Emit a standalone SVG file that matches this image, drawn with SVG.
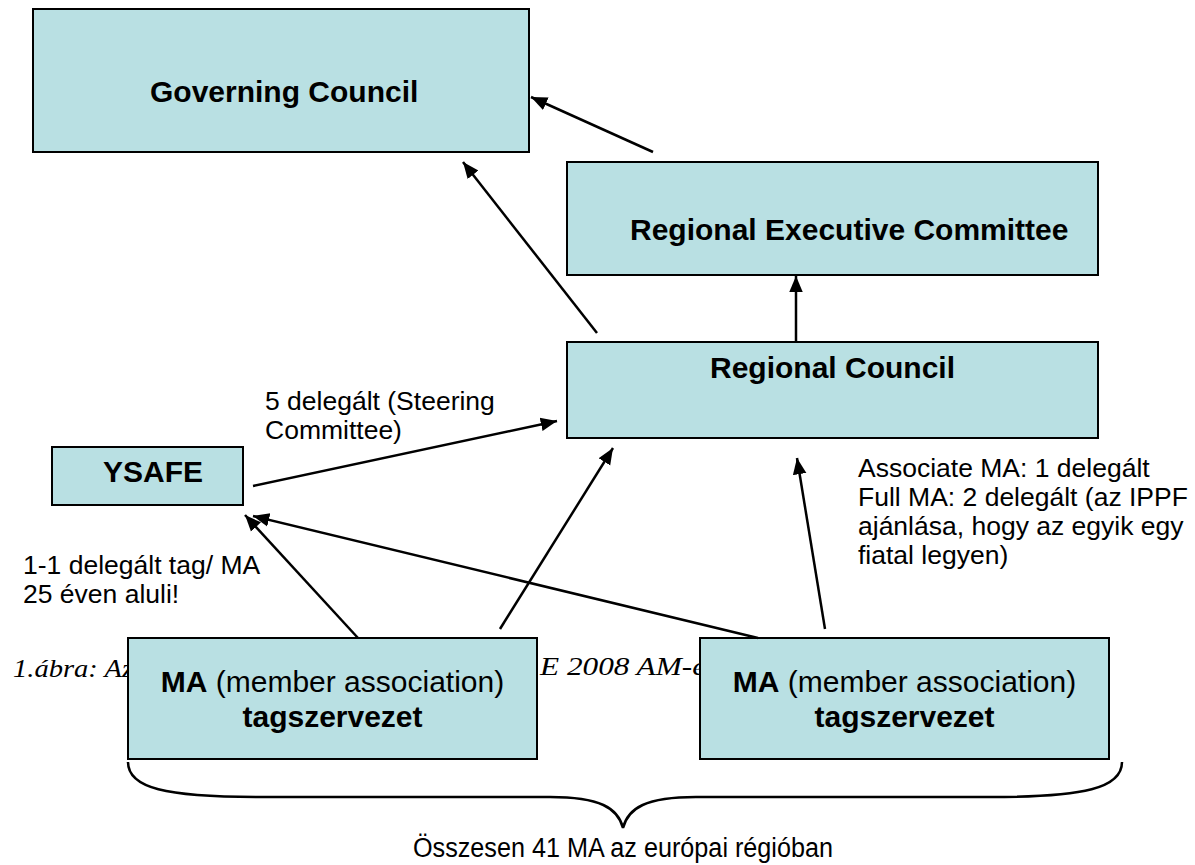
<svg xmlns="http://www.w3.org/2000/svg" width="1195" height="865" viewBox="0 0 1195 865">
<defs>
<style>
.box{fill:#b9e0e3;stroke:#000;stroke-width:2}
.t{font-family:"Liberation Sans",Arial,sans-serif;fill:#000}
.b{font-weight:bold}
.n{font-size:30px}
.l{font-size:26.5px}
.cap{font-family:"Liberation Serif","Times New Roman",serif;font-style:italic;font-size:25px;fill:#000}
.c{stroke:#000;stroke-width:2.5;fill:none}
</style>
<marker id="a" viewBox="0 0 10 10" refX="10" refY="5" markerWidth="6.5" markerHeight="6.5" orient="auto">
<path d="M0,0.8 L10,5 L0,9.2 z" fill="#000"/>
</marker>
</defs>
<rect width="1195" height="865" fill="#fff"/>
<text class="cap" x="13" y="677" textLength="120" lengthAdjust="spacingAndGlyphs">1.ábra: Az</text>
<text class="cap" x="540" y="675" textLength="166" lengthAdjust="spacingAndGlyphs">E 2008 AM-é</text>
<g id="governing-council">
<rect class="box" x="33" y="9" width="496" height="143"/>
<text class="t b n" x="150" y="102">Governing Council</text>
</g>
<g id="regional-executive-committee">
<rect class="box" x="567" y="162" width="531" height="113"/>
<text class="t b n" x="630" y="240">Regional Executive Committee</text>
</g>
<g id="regional-council">
<rect class="box" x="567" y="342" width="531" height="96"/>
<text class="t b n" x="710" y="378">Regional Council</text>
</g>
<g id="ysafe">
<rect class="box" x="52" y="447" width="191" height="58"/>
<text class="t b n" x="153" y="482" text-anchor="middle">YSAFE</text>
</g>
<g id="ma-left">
<rect class="box" x="128" y="638" width="409" height="121"/>
<text class="t n" x="332.5" y="692" text-anchor="middle"><tspan class="b">MA</tspan> (member association)</text>
<text class="t b n" x="332.5" y="727" text-anchor="middle">tagszervezet</text>
</g>
<g id="ma-right">
<rect class="box" x="700" y="638" width="409" height="121"/>
<text class="t n" x="904.5" y="692" text-anchor="middle"><tspan class="b">MA</tspan> (member association)</text>
<text class="t b n" x="904.5" y="727" text-anchor="middle">tagszervezet</text>
</g>
<g id="connectors">
<line class="c" x1="653" y1="152" x2="531" y2="97" marker-end="url(#a)"/>
<line class="c" x1="597" y1="333" x2="463" y2="162" marker-end="url(#a)"/>
<line class="c" x1="796" y1="342" x2="796" y2="276" marker-end="url(#a)"/>
<line class="c" x1="253" y1="486" x2="557" y2="421" marker-end="url(#a)"/>
<line class="c" x1="358" y1="638" x2="245" y2="515" marker-end="url(#a)"/>
<line class="c" x1="758" y1="638" x2="253" y2="516" marker-end="url(#a)"/>
<line class="c" x1="500" y1="629" x2="613" y2="448" marker-end="url(#a)"/>
<line class="c" x1="825" y1="629" x2="797" y2="458" marker-end="url(#a)"/>
<path class="c" stroke-width="2" d="M128,762 C128,788 165,797 260,797 L550,797 C600,797 618,808 623,828 C628,808 646,797 696,797 L990,797 C1085,797 1122,788 1122,762"/>
</g>
<g id="labels">
<text class="t l" x="265" y="410">5 delegált (Steering</text>
<text class="t l" x="265" y="439">Committee)</text>
<text class="t l" x="23" y="574">1-1 delegált tag/ MA</text>
<text class="t l" x="23" y="603">25 éven aluli!</text>
<text class="t l" x="858" y="477">Associate MA: 1 delegált</text>
<text class="t l" x="858" y="506">Full MA: 2 delegált (az IPPF</text>
<text class="t l" x="858" y="535">ajánlása, hogy az egyik egy</text>
<text class="t l" x="858" y="564">fiatal legyen)</text>
<text class="t" x="623" y="857" font-size="27" text-anchor="middle" textLength="420" lengthAdjust="spacingAndGlyphs">Összesen 41 MA az európai régióban</text>
</g>
</svg>
